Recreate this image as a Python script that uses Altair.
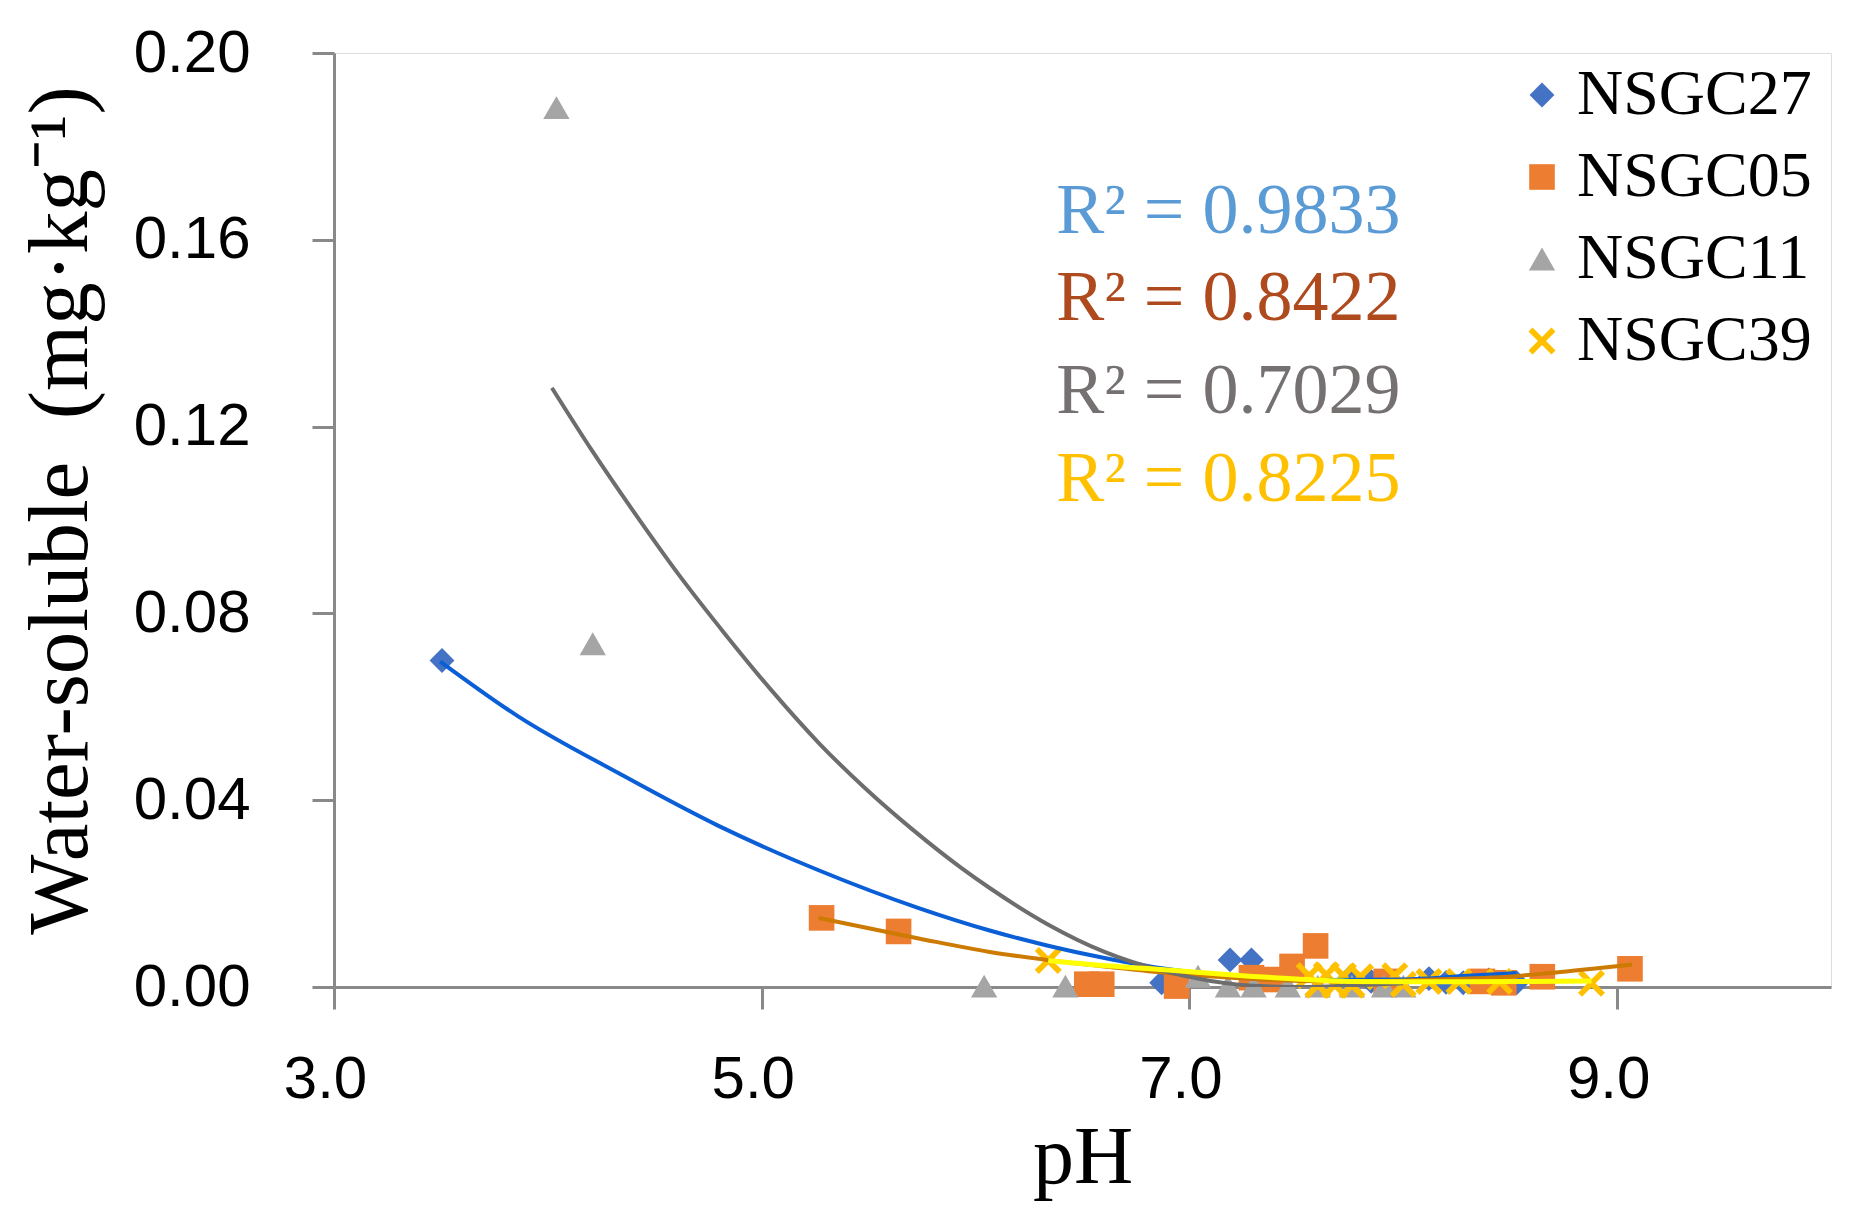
import altair as alt
import pandas as pd

series_names = ["NSGC27", "NSGC05", "NSGC11", "NSGC39"]
marker_colors = ["#4472C4", "#ED7D31", "#A5A5A5", "#FFC000"]
line_colors = ["#0A5FD6", "#CC7A00", "#6D6D6D", "#FFFF00"]
r2_colors = ["#5B9BD5", "#AE4A1E", "#767171", "#FFC000"]
r2_labels = ["R\u00b2 = 0.9833", "R\u00b2 = 0.8422", "R\u00b2 = 0.7029", "R\u00b2 = 0.8225"]

# ---- measured points ----
# NSGC27
ph_27 = [3.505, 6.87, 7.19, 7.29, 7.75, 7.85, 8.12, 8.20, 8.28, 8.40, 8.53]
ws_27 = [0.0699, 0.0009, 0.0058, 0.0058, 0.0020, 0.0012, 0.0018, 0.0010, 0.0009, 0.0015, 0.0009]
# NSGC05
ph_05 = [5.28, 5.64, 6.52, 6.59, 6.94, 7.29, 7.38, 7.48, 7.59, 7.92, 8.37, 8.47, 8.65, 9.06]
ws_05 = [0.0148, 0.0119, 0.0006, 0.0006, 0.0002, 0.0020, 0.0016, 0.0044, 0.0088, 0.0012, 0.0012, 0.0009, 0.0022, 0.0039]
# NSGC11
ph_11 = [4.04, 4.21, 6.04, 6.42, 7.04, 7.18, 7.30, 7.46, 7.60, 7.76, 7.91, 8.00]
ws_11 = [0.1883, 0.0735, 0.0002, 0.0002, 0.0023, 0.0002, 0.0002, 0.0002, 0.0002, 0.0002, 0.0002, 0.0002]
# NSGC39
ph_39 = [6.34, 7.56, 7.60, 7.64, 7.68, 7.72, 7.76, 7.80, 7.96, 8.00, 8.12, 8.26, 8.45, 8.88]
ws_39 = [0.0057, 0.0024, 0.0004, 0.0026, 0.0004, 0.0024, 0.0004, 0.0022, 0.0024, 0.0006, 0.0012, 0.0012, 0.0012, 0.0008]

# ---- trendlines (polynomial) ----
tr_ph_27 = [3.497, 3.863, 4.330, 4.798, 5.266, 5.734, 6.066, 6.334, 6.603, 6.871, 7.20, 7.60, 8.00, 8.30, 8.53]
tr_ws_27 = [0.0697, 0.0579, 0.0458, 0.0345, 0.0250, 0.0169, 0.0121, 0.0089, 0.0062, 0.0040, 0.0024, 0.0015,
            0.0016, 0.0024, 0.0030]
tr_ph_05 = [5.266, 5.734, 6.066, 6.334, 6.603, 6.871, 7.20, 7.52, 7.80, 8.00, 8.22, 8.45, 8.69, 9.07]
tr_ws_05 = [0.0148, 0.0104, 0.0075, 0.0058, 0.0044, 0.0031, 0.0020, 0.0013, 0.0012, 0.0014, 0.0017,
            0.0021, 0.0030, 0.0048]
tr_ph_11 = [4.019, 4.206, 4.424, 4.612, 4.830, 5.048, 5.266, 5.485, 5.703, 5.936, 6.066, 6.334, 6.603,
            6.871, 7.10, 7.33, 7.55, 7.75, 8.00]
tr_ws_11 = [0.1283, 0.1149, 0.1003, 0.0883, 0.0755, 0.0634, 0.0523, 0.0425, 0.0338, 0.0254, 0.0212, 0.0135,
            0.0075, 0.0035, 0.0013, 0.0002, 0.0000, 0.0003, 0.0008]
tr_ph_39 = [6.34, 6.60, 6.82, 7.05, 7.28, 7.50, 7.75, 8.00, 8.22, 8.60, 8.88]
tr_ws_39 = [0.0057, 0.0046, 0.0039, 0.0031, 0.0023, 0.0017, 0.0012, 0.0011, 0.0011, 0.0012, 0.0013]

# annotation anchors (data coordinates)
r2_x = [6.377, 6.377, 6.377, 6.377]
r2_y = [0.1615, 0.1429, 0.1230, 0.1041]

x_ticks = [3, 5, 7, 9]
y_ticks = [0.0, 0.04, 0.08, 0.12, 0.16, 0.20]

all_ph = [ph_27, ph_05, ph_11, ph_39]
all_ws = [ws_27, ws_05, ws_11, ws_39]
all_tr_ph = [tr_ph_27, tr_ph_05, tr_ph_11, tr_ph_39]
all_tr_ws = [tr_ws_27, tr_ws_05, tr_ws_11, tr_ws_39]

rows = []
for name, phs, wss in zip(series_names, all_ph, all_ws):
    for p, w in zip(phs, wss):
        rows.append({"series": name, "pH": p, "val": w})
df = pd.DataFrame(rows)

trows = []
for name, phs, wss in zip(series_names, all_tr_ph, all_tr_ws):
    for i, (p, w) in enumerate(zip(phs, wss)):
        trows.append({"series": name, "pH": p, "val": w, "i": i})
tdf = pd.DataFrame(trows)

ann = pd.DataFrame({"x": r2_x, "y": r2_y, "label": r2_labels, "c": r2_colors})

x_scale = alt.Scale(domain=[3, 10], nice=False, zero=False)
y_scale = alt.Scale(domain=[0, 0.2], nice=False)

axis_gray = "#898989"
x_axis = alt.Axis(values=x_ticks, format=".1f", tickSize=22, tickWidth=3, tickColor=axis_gray,
                  domainColor=axis_gray, domainWidth=3, labelFont="Liberation Sans", labelFontSize=60,
                  labelColor="black", labelPadding=41, labelFlush=False, labelOffset=-9, grid=False,
                  title="pH", titleFont="Liberation Serif", titleFontSize=82, titleFontWeight="normal",
                  titleColor="black", titleBaseline="alphabetic", titleY=195)
y_axis = alt.Axis(values=y_ticks, format=".2f", tickSize=22, tickWidth=3, tickColor=axis_gray,
                  domainColor=axis_gray, domainWidth=3, labelFont="Liberation Sans", labelFontSize=60,
                  labelColor="black", labelPadding=62, labelFlush=False, grid=False,
                  title="Water-soluble\u00a0\u00a0(mg\u00b7kg\u207b\u00b9)", titleFont="Liberation Serif",
                  titleFontSize=85, titleFontWeight="normal", titleColor="black", titleAngle=270,
                  titleAlign="center", titleBaseline="alphabetic", titleX=-248, titleY=457)

x_path = "M-0.7,-1L0,-0.3L0.7,-1L1,-0.7L0.3,0L1,0.7L0.7,1L0,0.3L-0.7,1L-1,0.7L-0.3,0L-1,-0.7Z"

leg = alt.Legend(title=None, orient="none", legendX=1176, legendY=10, labelFont="Liberation Serif",
                 labelFontSize=64, labelColor="black", labelLimit=500, symbolSize=700, rowPadding=18,
                 labelOffset=3, padding=0, symbolStrokeWidth=0, symbolOpacity=1)

points = alt.Chart(df).mark_point(filled=True, opacity=1, strokeWidth=0).encode(
    x=alt.X("pH:Q", scale=x_scale, axis=x_axis),
    y=alt.Y("val:Q", scale=y_scale, axis=y_axis),
    color=alt.Color("series:N", scale=alt.Scale(domain=series_names, range=marker_colors), legend=leg),
    shape=alt.Shape("series:N", scale=alt.Scale(domain=series_names,
                    range=["diamond", "square", "triangle-up", x_path]), legend=leg),
    size=alt.Size("series:N", scale=alt.Scale(domain=series_names, range=[620, 729, 700, 560]), legend=None),
)

layers = [points]
for name, lc in zip(series_names, line_colors):
    ln = alt.Chart(tdf).transform_filter(alt.datum.series == name).mark_line(
        strokeWidth=4 if name != "NSGC39" else 5, color=lc, clip=True, interpolate="monotone"
    ).encode(
        x=alt.X("pH:Q", scale=x_scale),
        y=alt.Y("val:Q", scale=y_scale),
        order="i:Q",
    )
    layers.append(ln)

texts = alt.Chart(ann).mark_text(align="left", baseline="alphabetic", font="Liberation Serif",
                                 fontSize=72).encode(
    x=alt.X("x:Q", scale=x_scale),
    y=alt.Y("y:Q", scale=y_scale),
    text="label:N",
    color=alt.Color("c:N", scale=None),
)
layers.append(texts)

chart = alt.layer(*layers).properties(
    width=1497, height=934,
    autosize=alt.AutoSizeParams(type="none"),
    padding={"left": 326, "top": 45, "right": 20, "bottom": 215},
).configure_view(stroke=None).configure(background="white")

chart.save("out.html", embed_options={"renderer": "svg", "actions": False})
